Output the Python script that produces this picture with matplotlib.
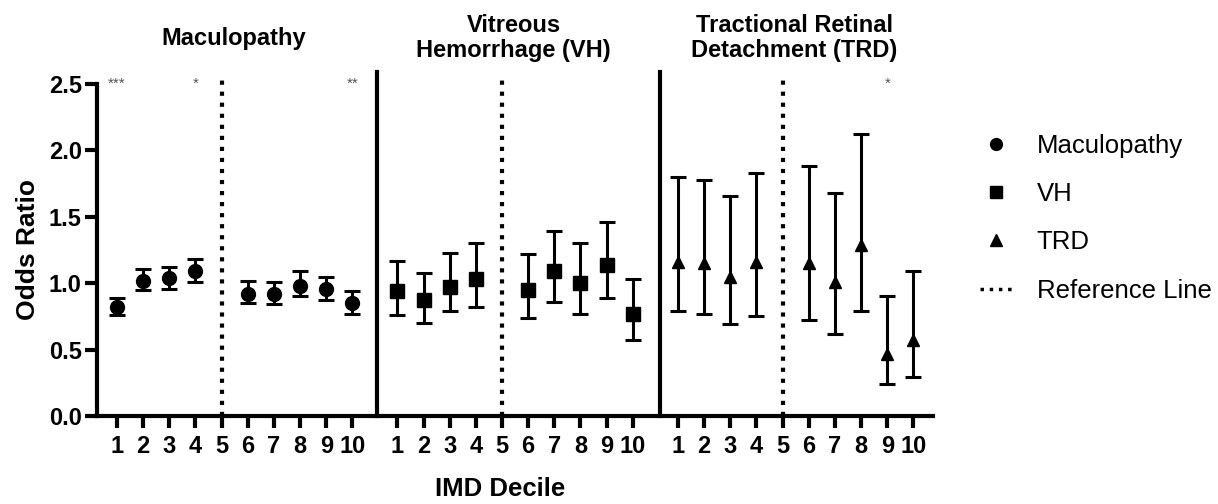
import matplotlib.pyplot as plt
from matplotlib.lines import Line2D

plt.rcParams['font.family'] = ['Liberation Sans', 'DejaVu Sans']

# IMD deciles (decile 5 is the reference group, no point)
deciles = [1, 2, 3, 4, 6, 7, 8, 9, 10]
tick_labels = [str(i) for i in range(1, 11)]

mac_or = [0.82, 1.02, 1.04, 1.09, 0.92, 0.92, 0.98, 0.96, 0.85]
mac_lo = [0.76, 0.95, 0.96, 1.01, 0.85, 0.84, 0.90, 0.87, 0.77]
mac_hi = [0.89, 1.11, 1.12, 1.18, 1.02, 1.01, 1.09, 1.05, 0.94]

vh_or = [0.94, 0.87, 0.97, 1.03, 0.95, 1.09, 1.00, 1.14, 0.77]
vh_lo = [0.76, 0.70, 0.79, 0.82, 0.74, 0.86, 0.77, 0.89, 0.57]
vh_hi = [1.17, 1.08, 1.23, 1.30, 1.22, 1.39, 1.30, 1.46, 1.03]

trd_or = [1.16, 1.15, 1.05, 1.16, 1.15, 1.01, 1.29, 0.47, 0.57]
trd_lo = [0.79, 0.77, 0.69, 0.75, 0.72, 0.62, 0.79, 0.24, 0.29]
trd_hi = [1.80, 1.78, 1.66, 1.83, 1.88, 1.68, 2.12, 0.90, 1.09]

titles = ['Maculopathy', 'Vitreous\nHemorrhage (VH)', 'Tractional Retinal\nDetachment (TRD)']
legend_names = ['Maculopathy', 'VH', 'TRD']
markers = ['o', 's', '^']
msizes = [10, 9.5, 9]

# significance stars: (panel, decile, text)
stars = [(0, 1, '***'), (0, 4, '*'), (0, 10, '**'), (2, 9, '*')]

offsets = [0, 10.72, 21.45]
bounds = [10.94, 21.77]

fig = plt.figure(figsize=(12.18, 5.04), dpi=100)
ax = fig.add_axes([97 / 1218, 88 / 504, 836 / 1218, 332 / 504])

series = [(mac_or, mac_lo, mac_hi), (vh_or, vh_lo, vh_hi), (trd_or, trd_lo, trd_hi)]
xt, xl = [], []
for k, (orr, lo, hi) in enumerate(series):
    xs = [d + offsets[k] for d in deciles]
    yerr = [[o - l for o, l in zip(orr, lo)], [h - o for o, h in zip(orr, hi)]]
    ax.errorbar(xs, orr, yerr=yerr, fmt=markers[k], ms=msizes[k], color='black',
                ecolor='black', elinewidth=2.2, capsize=5.5, capthick=2.2, zorder=3)
    ax.plot([5 + offsets[k]] * 2, [0, 2.55], color='black', ls=':', lw=3,
            clip_on=False, zorder=2)
    xt += [i + offsets[k] for i in range(1, 11)]
    xl += tick_labels
    cx = 5.45 + offsets[k]
    ax.text(cx, 2.5 + 46 / 132.8, titles[k], ha='center', va='center', fontsize=17,
            fontweight='bold', linespacing=1.1, transform=ax.transData)

for b in bounds:
    ax.plot([b, b], [0, 2.59], color='black', lw=3, clip_on=False, zorder=2)

for k, d, s in stars:
    ax.text(d + offsets[k], 2.5, s, ha='center', va='center', fontsize=11, color='#555555')

ax.set_xlim(0.235, 32.2)
ax.set_ylim(0, 2.5)
ax.set_xticks(xt)
ax.set_xticklabels(xl)
ax.set_yticks([0, 0.5, 1.0, 1.5, 2.0, 2.5])
ax.set_yticklabels(['0.0', '0.5', '1.0', '1.5', '2.0', '2.5'])
for s in ['top', 'right']:
    ax.spines[s].set_visible(False)
for s in ['left', 'bottom']:
    ax.spines[s].set_linewidth(3)
ax.tick_params(axis='both', width=3, labelsize=17)
ax.tick_params(axis='x', length=8.5, pad=5)
ax.tick_params(axis='y', length=9, pad=2)
for t in ax.get_xticklabels() + ax.get_yticklabels():
    t.set_fontweight('bold')

ax.set_ylabel('Odds Ratio', fontsize=19, fontweight='bold', labelpad=6)
fig.text(500 / 1218, 1 - 489 / 504, 'IMD Decile', ha='center', va='center',
         fontsize=18.5, fontweight='bold')

handles = [Line2D([], [], marker=m, color='black', ls='none', ms=8.5) for m in markers]
handles.append(Line2D([], [], color='black', ls=':', lw=2.5))
fig.legend(handles, legend_names + ['Reference Line'], loc='upper left',
           bbox_to_anchor=(980 / 1218, 0.735), frameon=False, fontsize=18.5,
           handlelength=1.28, handletextpad=0.93, labelspacing=0.95,
           borderpad=0, borderaxespad=0)

fig.savefig('out.png', dpi=100)
